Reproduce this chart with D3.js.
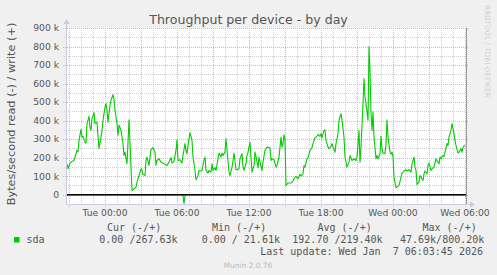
<!DOCTYPE html>
<html>
<head>
<meta charset="utf-8">
<script src="https://cdn.jsdelivr.net/npm/d3@7"></script>
<style>
  html, body { margin: 0; padding: 0; background: #f0f0f0; }
  svg { display: block; }
  .axis-text { font-family: 'DejaVu Sans', sans-serif; fill: #555; }
  .legend-text { font-family: 'DejaVu Sans Mono', monospace; font-size: 10px; fill: #555; white-space: pre; }
</style>
</head>
<body>
<div id="chart"></div>
<script>
// day of January 2026 + time, values in k bytes/second
const writeTimes = [
  "05 20:50","05 20:55","05 21:05","05 21:15","05 21:25","05 21:35","05 21:40","05 21:45","05 21:50","05 22:00",
  "05 22:05","05 22:10","05 22:20","05 22:25","05 22:30","05 22:40","05 22:45","05 22:50","05 22:55","05 23:05",
  "05 23:10","05 23:20","05 23:25","05 23:30","05 23:40","05 23:45","05 23:50",
  "06 00:00","06 00:05","06 00:10","06 00:15","06 00:25","06 00:30","06 00:40","06 00:45","06 00:50","06 01:00",
  "06 01:05","06 01:10","06 01:20","06 01:25","06 01:30","06 01:35","06 01:40","06 01:50","06 01:55","06 02:00",
  "06 02:10","06 02:15","06 02:20","06 02:35","06 02:40","06 02:50","06 03:00","06 03:05","06 03:10","06 03:20",
  "06 03:25","06 03:30","06 03:40","06 03:45","06 03:50","06 04:00","06 04:10","06 04:15","06 04:20","06 04:30",
  "06 04:40","06 04:55","06 05:10","06 05:20","06 05:30","06 05:35","06 05:45","06 05:55","06 06:00","06 06:05",
  "06 06:15","06 06:25","06 06:30","06 06:40","06 06:45","06 06:50","06 07:00","06 07:05","06 07:15","06 07:20",
  "06 07:30","06 07:35","06 07:45","06 07:50","06 08:00","06 08:05","06 08:15","06 08:20","06 08:25","06 08:35",
  "06 08:40","06 08:50","06 08:55","06 09:00","06 09:10","06 09:15","06 09:25","06 09:30","06 09:40","06 09:45",
  "06 09:50","06 10:00","06 10:05","06 10:15","06 10:20","06 10:25","06 10:35","06 10:40","06 10:45","06 10:55",
  "06 11:00","06 11:10","06 11:15","06 11:25","06 11:30","06 11:35","06 11:45","06 11:50","06 11:55","06 12:05",
  "06 12:10","06 12:15","06 12:25","06 12:30","06 12:35","06 12:45","06 12:50","06 12:55","06 13:05","06 13:10",
  "06 13:20","06 13:25","06 13:30","06 13:45","06 13:50","06 13:55","06 14:05","06 14:15","06 14:20","06 14:30",
  "06 14:40","06 14:45","06 14:50","06 14:55","06 15:00","06 15:05","06 15:15","06 15:30","06 15:40","06 15:50",
  "06 15:55","06 16:05","06 16:15","06 16:20","06 16:30","06 16:35","06 16:40","06 16:50","06 16:55","06 17:05",
  "06 17:15","06 17:20","06 17:30","06 17:40","06 17:45","06 17:55","06 18:00","06 18:05","06 18:15","06 18:20",
  "06 18:25","06 18:35","06 18:40","06 18:50","06 18:55","06 19:00","06 19:10","06 19:15","06 19:25","06 19:30",
  "06 19:40","06 19:45","06 19:55","06 20:00","06 20:10","06 20:20","06 20:25","06 20:35","06 20:45","06 20:55",
  "06 21:00","06 21:10","06 21:15","06 21:20","06 21:30","06 21:35","06 21:40","06 21:50","06 21:55","06 22:00",
  "06 22:05","06 22:10","06 22:15","06 22:20","06 22:25","06 22:35","06 22:40","06 22:45","06 22:55","06 23:00",
  "06 23:05","06 23:10","06 23:20","06 23:25","06 23:30","06 23:35","06 23:45","06 23:50","06 23:55",
  "07 00:00","07 00:05","07 00:15","07 00:20","07 00:30","07 00:40","07 00:45","07 00:55","07 01:05","07 01:10",
  "07 01:20","07 01:30","07 01:35","07 01:45","07 01:50","07 01:55","07 02:00","07 02:10","07 02:15","07 02:20",
  "07 02:30","07 02:35","07 02:40","07 02:50","07 02:55","07 03:00","07 03:10","07 03:15","07 03:25","07 03:35",
  "07 03:40","07 03:50","07 03:55","07 04:00","07 04:10","07 04:15","07 04:20","07 04:30","07 04:35","07 04:40",
  "07 04:50","07 04:55","07 05:05","07 05:10","07 05:15","07 05:25","07 05:30","07 05:40","07 05:45","07 05:50",
  "07 06:00"
];
const writeValues = [
  167,140,171,180,185,222,240,232,293,353,
  311,315,284,279,384,423,365,347,411,443,
  384,392,320,249,311,347,402,
  473,492,456,392,483,510,540,513,456,384,
  320,375,351,311,276,212,230,168,284,405,
  149,23,27,41,68,104,140,131,110,104,
  185,203,158,203,243,254,230,158,185,194,
  176,167,158,176,200,171,180,239,297,185,
  189,171,212,276,239,222,303,335,293,203,
  131,81,104,131,128,131,185,203,131,117,
  131,122,167,131,146,131,194,225,203,225,
  212,230,303,185,122,104,149,185,225,135,
  135,140,194,222,153,131,167,212,230,284,
  203,122,158,230,207,146,203,176,131,176,
  239,249,257,254,185,194,189,149,158,203,
  311,257,276,324,293,50,63,63,74,95,
  99,86,110,101,113,158,149,194,198,239,
  254,276,308,315,326,315,330,308,347,351,
  293,257,249,261,276,257,230,276,330,402,
  438,402,311,203,149,176,212,185,194,185,
  203,347,176,257,492,627,530,447,402,800,
  672,438,347,447,311,194,212,194,222,315,
  249,225,222,276,405,311,230,218,230,
  203,95,38,41,50,95,117,128,135,128,
  135,122,167,203,149,131,56,68,104,95,
  77,113,128,113,158,171,131,140,149,194,
  185,167,203,194,212,207,230,276,266,311,
  347,384,330,293,266,225,230,249,230,257,
  268
];
const readTimes  = ["05 20:50","06 06:25","06 06:30","06 06:35","06 06:40","06 06:45","06 10:00","06 10:05","06 10:10","07 06:00"];
const readValues = [0, 0, 6, 47.69, 6, 0, 0, 7, 0, 0];

const yTicks = [0, 100, 200, 300, 400, 500, 600, 700, 800, 900];
const yTickLabels = ["0", "100 k", "200 k", "300 k", "400 k", "500 k", "600 k", "700 k", "800 k", "900 k"];
const xTickTimes = ["06 00:00", "06 06:00", "06 12:00", "06 18:00", "07 00:00", "07 06:00"];
const xTickLabels = ["Tue 00:00", "Tue 06:00", "Tue 12:00", "Tue 18:00", "Wed 00:00", "Wed 06:00"];

const legendHeaders = ["Cur (-/+)", "Min (-/+)", "Avg (-/+)", "Max (-/+)"];
const legendValues = ["0.00 /267.63k", "0.00 / 21.61k", "192.70 /219.40k", "47.69k/800.20k"];
const seriesName = "sda";

const parse = d3.timeParse("%Y-%m-%d %H:%M");
const t = s => parse("2026-01-" + s);

const W = 497, H = 275;
const L = 66, R = 466, T = 28, B = 204;
const green = "#00cc00";

const x = d3.scaleTime().domain([t("05 20:45"), t("07 06:05")]).range([L, R]);
const y = d3.scaleLinear().domain([-50, 900]).range([B, T]);
const px = v => Math.round(v) + 0.5;

const svg = d3.select("#chart").append("svg").attr("width", W).attr("height", H);
svg.append("rect").attr("width", W).attr("height", H).attr("fill", "#f0f0f0");
svg.append("rect").attr("x", L).attr("y", T).attr("width", R - L).attr("height", B - T).attr("fill", "#fff");

const grid = svg.append("g").attr("stroke-width", 1).attr("stroke-dasharray", "1,1").attr("fill", "none");

// vertical grid: hours minor, 3h major
const hours = d3.timeHour.range(x.domain()[0], x.domain()[1]);
hours.forEach(h => {
  const major = h.getHours() % 3 === 0;
  grid.append("line")
    .attr("x1", px(x(h))).attr("x2", px(x(h)))
    .attr("y1", T).attr("y2", major ? B + 3 : B + 2)
    .attr("stroke", major ? "#f0a8a8" : "#d0d0d0");
});

// horizontal grid
d3.range(50, 900, 100).forEach(v => {
  grid.append("line").attr("x1", L - 2).attr("x2", R + 2)
    .attr("y1", px(y(v))).attr("y2", px(y(v))).attr("stroke", "#d0d0d0");
});
yTicks.forEach(v => {
  grid.append("line").attr("x1", L - 3).attr("x2", R + 3)
    .attr("y1", px(y(v))).attr("y2", px(y(v))).attr("stroke", "#f0a8a8");
});

// series
const line = d3.line().x(d => x(d[0])).y(d => y(d[1]));
const readData = readTimes.map((s, i) => [t(s), -readValues[i]]);
const writeData = writeTimes.map((s, i) => [t(s), writeValues[i]]);

svg.append("path").datum(readData).attr("d", line)
  .attr("fill", "none").attr("stroke", green).attr("stroke-width", 1.1);
svg.append("path").datum(writeData).attr("d", line)
  .attr("fill", "none").attr("stroke", green).attr("stroke-width", 1.1).attr("stroke-linejoin", "round");

// zero rule
svg.append("line").attr("x1", L).attr("x2", R)
  .attr("y1", y(0)).attr("y2", y(0)).attr("stroke", "#000").attr("stroke-width", 1.6);

// axes
const axisColor = "#c8c8e8";
svg.append("line").attr("x1", L + 0.5).attr("x2", L + 0.5).attr("y1", B + 1).attr("y2", T - 5)
  .attr("stroke", axisColor);
svg.append("line").attr("x1", L).attr("x2", R + 5).attr("y1", B + 0.5).attr("y2", B + 0.5)
  .attr("stroke", axisColor);
svg.append("line").attr("x1", R + 0.5).attr("x2", R + 0.5).attr("y1", T).attr("y2", B)
  .attr("stroke", "#999");
svg.append("path").attr("d", `M${L - 2.5},${T - 4} L${L + 3.5},${T - 4} L${L + 0.5},${T - 9} Z`).attr("fill", axisColor);
svg.append("path").attr("d", `M${R + 4},${B - 2.5} L${R + 4},${B + 3.5} L${R + 9},${B + 0.5} Z`).attr("fill", axisColor);

// tick labels
svg.append("g").selectAll("text").data(yTicks).join("text")
  .attr("class", "axis-text").attr("font-size", 9.2)
  .attr("x", 59).attr("y", d => y(d)).attr("dy", "0.36em")
  .attr("text-anchor", "end").text((d, i) => yTickLabels[i]);

svg.append("g").selectAll("text").data(xTickTimes).join("text")
  .attr("class", "axis-text").attr("font-size", 9.2)
  .attr("x", d => x(t(d))).attr("y", 216)
  .attr("text-anchor", "middle").text((d, i) => xTickLabels[i]);

// title and axis label
svg.append("text").attr("class", "axis-text").attr("font-size", 12.6).attr("fill", "#4a4a4a")
  .attr("x", 248.5).attr("y", 24).attr("text-anchor", "middle")
  .text("Throughput per device - by day");

svg.append("text").attr("class", "axis-text").attr("font-size", 11.3)
  .attr("transform", "translate(15,114) rotate(-90)").attr("text-anchor", "middle")
  .text("Bytes/second read (-) / write (+)");

svg.append("text").attr("font-family", "DejaVu Sans, sans-serif").attr("font-size", 7.2).attr("fill", "#d0d0d0")
  .attr("transform", "translate(485,5) rotate(90)").attr("text-anchor", "start")
  .text("RRDTOOL / TOBI OETIKER");

// legend
const headerX = [107, 212, 317.5, 422.5];
const valueX = [99.3, 201.7, 292.3, 400];
svg.append("g").selectAll("text").data(legendHeaders).join("text")
  .attr("class", "legend-text").attr("x", (d, i) => headerX[i]).attr("y", 231).text(d => d);
svg.append("rect").attr("x", 14).attr("y", 237).attr("width", 5.5).attr("height", 5.5).attr("fill", green);
svg.append("text").attr("class", "legend-text").attr("x", 26.5).attr("y", 243).text(seriesName);
svg.append("g").selectAll("text").data(legendValues).join("text")
  .attr("class", "legend-text").attr("x", (d, i) => valueX[i]).attr("y", 243).text(d => d);
svg.append("text").attr("class", "legend-text").attr("x", 483).attr("y", 255).attr("text-anchor", "end")
  .text("Last update: Wed Jan  7 06:03:45 2026");

svg.append("text").attr("font-family", "DejaVu Sans, sans-serif").attr("font-size", 7.4).attr("fill", "#b8b8b8")
  .attr("x", 248).attr("y", 267.5).attr("text-anchor", "middle").text("Munin 2.0.76");
</script>
</body>
</html>
